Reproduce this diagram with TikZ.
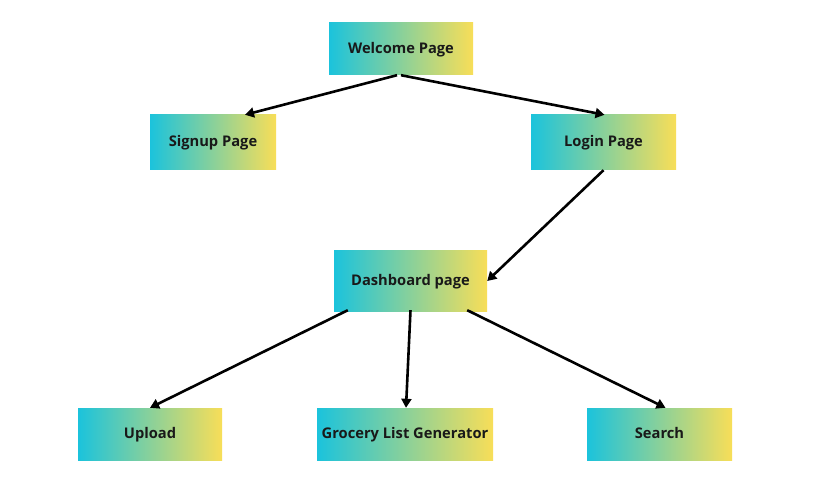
\documentclass[tikz,border=0pt]{standalone}
\usepackage{fontspec}
\setmainfont{Open Sans}
\usetikzlibrary{arrows.meta,calc}
\definecolor{cyanL}{HTML}{1BC3DC}
\definecolor{yelR}{HTML}{F8DE58}
\begin{document}
\begin{tikzpicture}[x=1pt,y=-1pt,
  pbox/.style={rectangle, shade, shading angle=90, left color=cyanL, right color=yelR,
    draw=none, inner sep=0pt, font=\fontsize{14.7}{17}\selectfont\bfseries, text=black!90,
    text height=9pt, text depth=0pt},
  conn/.style={line width=2.6pt, -{Triangle[length=9pt,width=10pt]}}]
\useasboundingbox[fill=white] (0,0) rectangle (840,478);
\node[pbox, minimum width=144pt, minimum height=52pt] (wel) at (401,49) {Welcome Page};
\node[pbox, minimum width=126pt, minimum height=55pt] (sig) at (213,142.5) {Signup Page};
\node[pbox, minimum width=145pt, minimum height=55pt] (log) at (603.5,142.5) {Login Page};
\node[pbox, minimum width=153pt, minimum height=60pt] (das) at (410.5,281) {Dashboard page};
\node[pbox, minimum width=144pt, minimum height=52pt] (upl) at (150,434) {Upload};
\node[pbox, minimum width=176pt, minimum height=52pt] (gro) at (405,434) {Grocery List Generator};
\node[pbox, minimum width=145pt, minimum height=52pt] (sea) at (659.5,434) {Search};
\draw[conn] ([xshift=-4pt]wel.south) -- ([xshift=32pt]sig.north);
\draw[conn] (wel.south) -- ([xshift=1pt]log.north);
\draw[conn] (log.south) -- (das.east);
\draw[conn] ([xshift=14pt,yshift=1pt]das.south west) -- (upl.north);
\draw[conn] ([yshift=1pt]das.south) -- ([xshift=1pt]gro.north);
\draw[conn] ([xshift=-20pt,yshift=1pt]das.south east) -- ([xshift=6pt]sea.north);
\end{tikzpicture}
\end{document}
